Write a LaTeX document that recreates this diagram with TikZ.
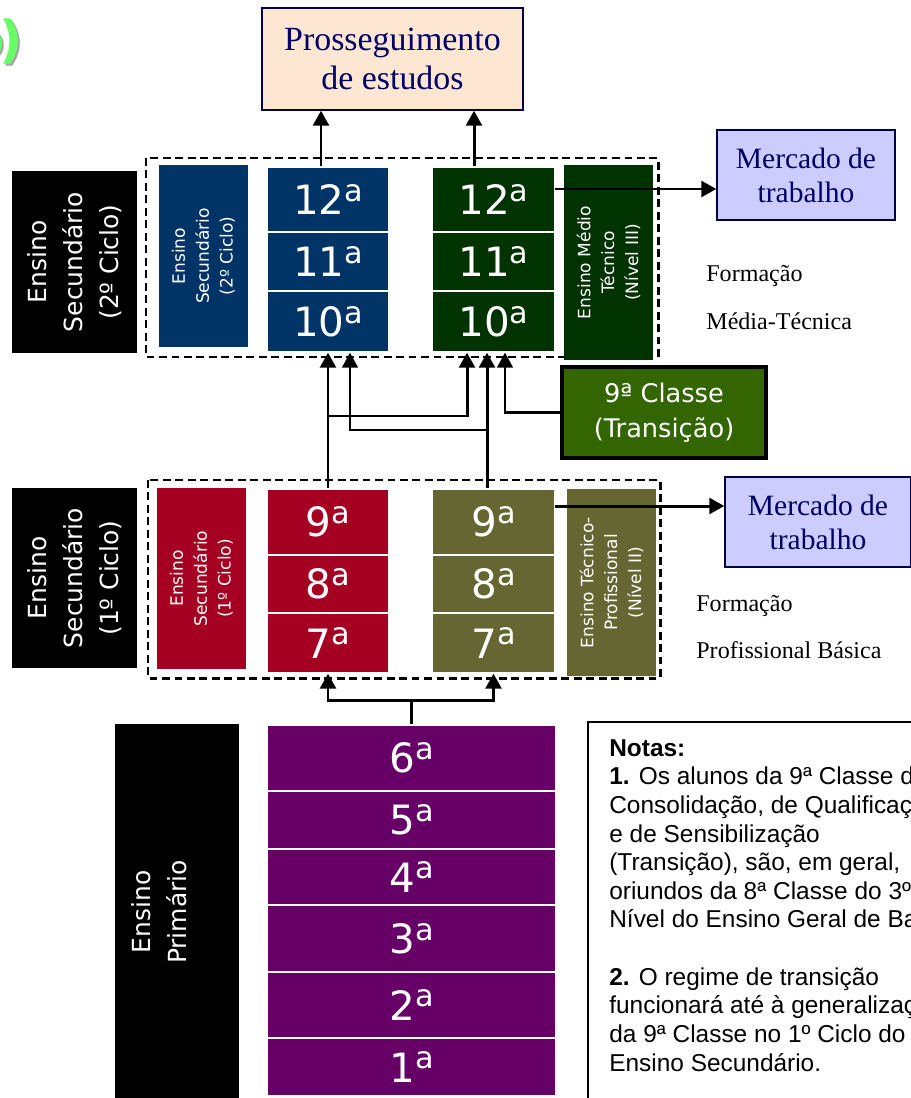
\documentclass[tikz,border=0pt]{standalone}
\usepackage{fontspec}
\setmainfont{Liberation Serif}
\newfontfamily\dejavu{DejaVu Sans}
\newfontfamily\arial{Liberation Sans}
\usetikzlibrary{arrows.meta}

\definecolor{azul}{HTML}{003366}
\definecolor{verde}{HTML}{003300}
\definecolor{vermelho}{HTML}{A50021}
\definecolor{oliva}{HTML}{666633}
\definecolor{roxo}{HTML}{660066}
\definecolor{verdetrans}{HTML}{336600}
\definecolor{lilas}{HTML}{CCCCFF}
\definecolor{pessego}{HTML}{FDE6D2}
\definecolor{marinho}{HTML}{000066}
\definecolor{verdelogo}{HTML}{66FF66}

% grade with a raised "a"
\newcommand{\ord}[1]{#1\raisebox{0.33em}{\scalebox{0.75}{a}}}

\tikzset{
  grau/.style={draw=white, line width=0.8pt, text=white, minimum width=2.44cm, inner sep=0pt, font=\dejavu\fontsize{23}{25}\selectfont},
  rotulo/.style={rotate=90, text=white, align=center, inner sep=0pt, minimum height=1.78cm, font=\dejavu\fontsize{9.7}{13.6}\selectfont},
  nivel/.style={rotate=90, fill=black, text=white, align=center, inner sep=0pt, font=\dejavu\fontsize{14.2}{20.5}\selectfont},
  destino/.style={draw=marinho!70!black, line width=0.8pt, text=marinho, align=center, font=\fontsize{16.8}{19.4}\selectfont},
  cerca/.style={line width=1.7pt, dash pattern=on 4.5pt off 2.6pt},
  seta/.style={line width=1.7pt, -{Triangle[width=9pt,length=8.5pt]}},
  setafina/.style={line width=1.2pt, -{Triangle[width=9pt,length=8.5pt]}},
  formacao/.style={anchor=west, inner sep=0pt, font=\fontsize{13.7}{16}\selectfont}
}

\begin{document}
\begin{tikzpicture}[x=0.02cm, y=-0.02cm]
    \clip (0,0) rectangle (911,1098);

    % Logo fragment in the corner
    \node[anchor=base east, inner sep=0pt, text=black!35, font=\dejavu\bfseries\fontsize{29}{30}\selectfont] (sombra) at (25,60) {o\kern-0.1em)};
    \node[anchor=base east, inner sep=0pt, text=verdelogo, font=\dejavu\bfseries\fontsize{29}{30}\selectfont] (logo) at (23,58) {o\kern-0.1em)};

    % Destinations
    \node[destino, fill=pessego, minimum width=5.22cm, minimum height=2.04cm, font=\fontsize{19.3}{22}\selectfont] (pros) at (392.5,59) {Prosseguimento\\de estudos};
    \node[destino, fill=lilas, minimum width=3.56cm, minimum height=1.8cm] (merc1) at (806,175) {Mercado de\\trabalho};
    \node[destino, fill=lilas, minimum width=3.72cm, minimum height=1.8cm] (merc2) at (818,522) {Mercado de\\trabalho};

    % Level labels on the left
    \node[nivel, minimum width=3.64cm, minimum height=2.5cm] (nivel2) at (74.5,262) {Ensino\\Secundário\\(2º Ciclo)};
    \node[nivel, minimum width=3.6cm, minimum height=2.5cm] (nivel1) at (74.5,578) {Ensino\\Secundário\\(1º Ciclo)};
    \node[nivel, minimum width=7.52cm, minimum height=2.48cm] (nivel0) at (177,912) {Ensino\\Primário\\\mbox{}};

    % Dashed frames
    \draw[cerca] (146,158) rectangle (658,357);
    \draw[cerca] (148,480) rectangle (660,678);

    % 2nd cycle
    \node[rotulo, fill=azul, minimum width=3.64cm] (es2) at (203.5,256) {Ensino\\Secundário\\(2º Ciclo)};
    \node[grau, fill=azul, minimum height=1.3cm] (b12) at (328,199.5) {\ord{12}};
    \node[grau, fill=azul, minimum height=1.18cm] (b11) at (328,261.5) {\ord{11}};
    \node[grau, fill=azul, minimum height=1.22cm] (b10) at (328,321.5) {\ord{10}};
    \node[grau, fill=verde, minimum height=1.3cm] (g12) at (493.5,199.5) {\ord{12}};
    \node[grau, fill=verde, minimum height=1.18cm] (g11) at (493.5,261.5) {\ord{11}};
    \node[grau, fill=verde, minimum height=1.22cm] (g10) at (493.5,321.5) {\ord{10}};
    \node[rotulo, fill=verde, minimum width=3.9cm] (emt) at (608.5,262.5) {Ensino Médio\\Técnico\\(Nível III)};

    % 1st cycle
    \node[rotulo, fill=vermelho, minimum width=3.62cm] (es1) at (201.5,578.5) {Ensino\\Secundário\\(1º Ciclo)};
    \node[grau, fill=vermelho, minimum height=1.32cm] (r9) at (328,522) {\ord{9}};
    \node[grau, fill=vermelho, minimum height=1.16cm] (r8) at (328,584) {\ord{8}};
    \node[grau, fill=vermelho, minimum height=1.2cm] (r7) at (328,643) {\ord{7}};
    \node[grau, fill=oliva, minimum height=1.32cm] (o9) at (493.5,522) {\ord{9}};
    \node[grau, fill=oliva, minimum height=1.16cm] (o8) at (493.5,584) {\ord{8}};
    \node[grau, fill=oliva, minimum height=1.2cm] (o7) at (493.5,643) {\ord{7}};
    \node[rotulo, fill=oliva, minimum width=3.74cm] (etp) at (611.5,582.5) {Ensino Técnico-\\Profissional\\(Nível II)};

    % Primary
    \node[grau, fill=roxo, minimum width=5.78cm, minimum height=1.32cm] (p6) at (411.5,758) {\ord{6}};
    \node[grau, fill=roxo, minimum width=5.78cm, minimum height=1.16cm] (p5) at (411.5,820) {\ord{5}};
    \node[grau, fill=roxo, minimum width=5.78cm, minimum height=1.12cm] (p4) at (411.5,877) {\ord{4}};
    \node[grau, fill=roxo, minimum width=5.78cm, minimum height=1.34cm] (p3) at (411.5,938.5) {\ord{3}};
    \node[grau, fill=roxo, minimum width=5.78cm, minimum height=1.32cm] (p2) at (411.5,1005) {\ord{2}};
    \node[grau, fill=roxo, minimum width=5.78cm, minimum height=1.16cm] (p1) at (411.5,1067) {\ord{1}};

    % Transition class
    \node[fill=verdetrans, draw=black, line width=2.3pt, text=white, align=center, minimum width=4.08cm, minimum height=1.82cm, font=\dejavu\fontsize{14.6}{20}\selectfont] (trans) at (664,412.5) {9ª Classe\\(Transição)};

    % Training labels
    \node[formacao] (fmt1) at (706,276) {Formação};
    \node[formacao] (fmt2) at (706,321) {Média-Técnica};
    \node[formacao] (fpb1) at (696,606) {Formação};
    \node[formacao] (fpb2) at (696,650) {Profissional Básica};

    % Notes
    \draw[line width=1pt] (588,1110) -- (588,722) -- (930,722);
    \node[anchor=north west, inner sep=0pt, align=left, font=\arial\fontsize{13.9}{16.3}\selectfont] (notas) at (609,739) {\textbf{Notas:}\\\textbf{1.} Os alunos da 9ª Classe de\\Consolidação, de Qualificação\\e de Sensibilização\\(Transição), são, em geral,\\oriundos da 8ª Classe do 3º\\Nível do Ensino Geral de Base\\\mbox{}\\\textbf{2.} O regime de transição\\funcionará até à generalização\\da 9ª Classe no 1º Ciclo do\\Ensino Secundário.};

    % Arrows out of the 2nd cycle
    \draw[seta] ([xshift=-0.14cm]b12.north) -- ([xshift=-0.14cm]b12.north |- pros.south);
    \draw[seta] ([xshift=-0.39cm]g12.north) -- ([xshift=-0.39cm]g12.north |- pros.south);
    \draw[seta] ([yshift=0.21cm]g12.east) -- ([yshift=0.21cm]g12.east -| merc1.west);
    \draw[seta] ([yshift=0.32cm]o9.east) -- ([yshift=0.32cm]o9.east -| merc2.west);

    % Arrows from the 1st cycle up
    \coordinate (ja) at (328,416);
    \coordinate (jb) at (487,430);
    \draw[seta] (r9.north) -- (b10.south);
    \draw[seta] (ja) -| ([xshift=-0.53cm]g10.south);
    \draw[seta] ([xshift=-0.13cm]o9.north) -- ([xshift=-0.13cm]g10.south);
    \draw[setafina] (jb) -| ([xshift=0.44cm]b10.south);
    \draw[setafina] (trans.west) -| ([xshift=0.23cm]g10.south);

    % Arrows from primary
    \coordinate (jp) at (411.5,700);
    \draw[line width=1.7pt] (p6.north) -- (jp);
    \draw[seta] (jp) -| (r7.south);
    \draw[seta] (jp) -| (o7.south);
\end{tikzpicture}
\end{document}
